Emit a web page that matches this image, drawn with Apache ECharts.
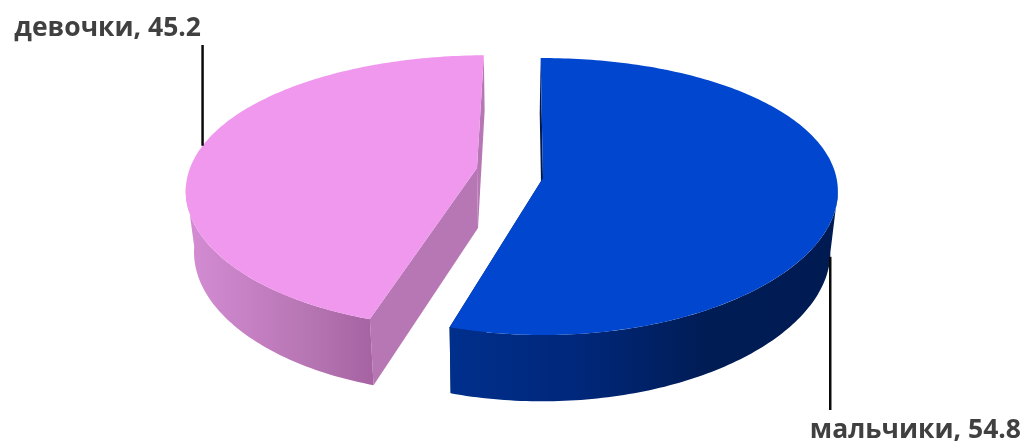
<!DOCTYPE html>
<html>
<head>
<meta charset="utf-8">
<style>html,body{margin:0;padding:0;background:#fff}#chart{width:1024px;height:443px}</style>
<script src="https://cdn.jsdelivr.net/npm/echarts@6/dist/echarts.min.js"></script>
</head>
<body>
<div id="chart"></div>
<script>
// Share of boys and girls, drawn as an exploded pie in perspective.
const categories = ['мальчики', 'девочки'];
const shares = [54.8, 45.2];

const startAngle = -0.5;        // degrees, clockwise from the far side of the disc
const bottomScaleY = 1.04;
const angleStep = 1;

const sliceStyles = [
  { apex: [543, 178], radiusX: 293.5, radiusY: 136, perspectiveX: 0.097, perspectiveY: 0.134,
    bottomScaleX: 0.978, shear: 0, drop: [-1, 60], top: '#0046cf', cut: '#001a50',
    wall: ['#002f8c', '#00277a', '#001c55', '#001b52'],
    leader: { angle: 97.5, level: 1, endY: 410 },
    label: { x: 1021, y: 430, align: 'right' } },
  { apex: [477, 168], radiusX: 287, radiusY: 132, perspectiveX: 0.134, perspectiveY: 0.171,
    bottomScaleX: 0.975, shear: -0.08, drop: [1, 60], top: '#f098ee', cut: '#b777b5',
    wall: ['#d48dd3', '#c680c4', '#b575b2', '#a662a2'],
    leader: { angle: 280, level: 0, endY: 45 },
    label: { x: 201, y: 28, align: 'right' } }
];

const total = shares.reduce((a, b) => a + b, 0);

function sliceRange(index) {
  let from = startAngle;
  for (let i = 0; i < index; i++) from += shares[i] / total * 360;
  return [from, from + shares[index] / total * 360];
}

// Projects a point on the rim of the disc (top or bottom face) to the screen.
function rim(index, deg, level) {
  const s = sliceStyles[index];
  const a = deg * Math.PI / 180;
  const u = Math.sin(a), v = Math.cos(a);
  const x0 = s.radiusX * u / (1 + s.perspectiveX * v);
  const y0 = -s.radiusY * v / (1 + s.perspectiveY * v);
  const kx = level ? s.bottomScaleX : 1, ky = level ? bottomScaleY : 1;
  return [
    s.apex[0] + kx * (x0 + s.shear * y0) + (level ? s.drop[0] : 0),
    s.apex[1] + ky * y0 + (level ? s.drop[1] : 0)
  ];
}

function arc(index, from, to, level) {
  const pts = [];
  const n = Math.ceil(Math.abs(to - from) / angleStep);
  for (let i = 0; i <= n; i++) pts.push(rim(index, from + (to - from) * i / n, level));
  return pts;
}

// Angle at which the rim reaches its widest point on screen.
function widestAngle(index, side) {
  const tilt = Math.acos(-sliceStyles[index].perspectiveX) * 180 / Math.PI;
  return side > 0 ? tilt : 360 - tilt;
}

function renderSlice(params, api) {
  const i = params.dataIndex;
  const s = sliceStyles[i];
  const [from, to] = sliceRange(i);
  const apexBottom = [s.apex[0] + s.drop[0], s.apex[1] + s.drop[1]];
  const poly = (points, fill) => ({
    type: 'polygon', shape: { points }, style: { fill, stroke: null }, silent: true
  });
  const wallFill = new echarts.graphic.LinearGradient(0, 0, 1, 0,
    s.wall.map((color, k) => ({ offset: k / (s.wall.length - 1), color })));

  // the outer wall is visible from the widest point of the rim round to the near cut
  const wallFrom = i === 0 ? widestAngle(i, 1) : from;
  const wallTo = i === 0 ? to : widestAngle(i, -1);
  const wallTop = arc(i, wallFrom, wallTo, 0);
  const wallBottom = arc(i, wallTo, wallFrom, 1);

  const children = [
    // radial cut walls
    poly([rim(i, from, 0), rim(i, from, 1), apexBottom, s.apex], s.cut),
    poly([rim(i, to, 0), rim(i, to, 1), apexBottom, s.apex], s.cut),
    poly(wallTop.concat(wallBottom), wallFill),
    poly([s.apex].concat(arc(i, from, to, 0)), s.top)
  ];

  const anchor = rim(i, s.leader.angle, s.leader.level);
  children.push({
    type: 'line',
    shape: { x1: anchor[0], y1: anchor[1], x2: anchor[0], y2: s.leader.endY },
    style: { stroke: '#0a0a0a', lineWidth: 2.5 }, silent: true
  });
  children.push({
    type: 'text',
    style: {
      x: s.label.x, y: s.label.y,
      text: categories[i] + ', ' + shares[i],
      align: s.label.align, verticalAlign: 'middle',
      fill: '#404040',
      font: 'bold 26.5px "Open Sans", "Noto Sans", sans-serif'
    },
    silent: true
  });
  return { type: 'group', children };
}

const chart = echarts.init(document.getElementById('chart'), null, { renderer: 'canvas' });
chart.setOption({
  animation: false,
  backgroundColor: '#ffffff',
  series: [{
    type: 'custom',
    coordinateSystem: 'none',
    renderItem: renderSlice,
    data: shares.map((value, i) => ({ name: categories[i], value }))
  }]
});
</script>
</body>
</html>
